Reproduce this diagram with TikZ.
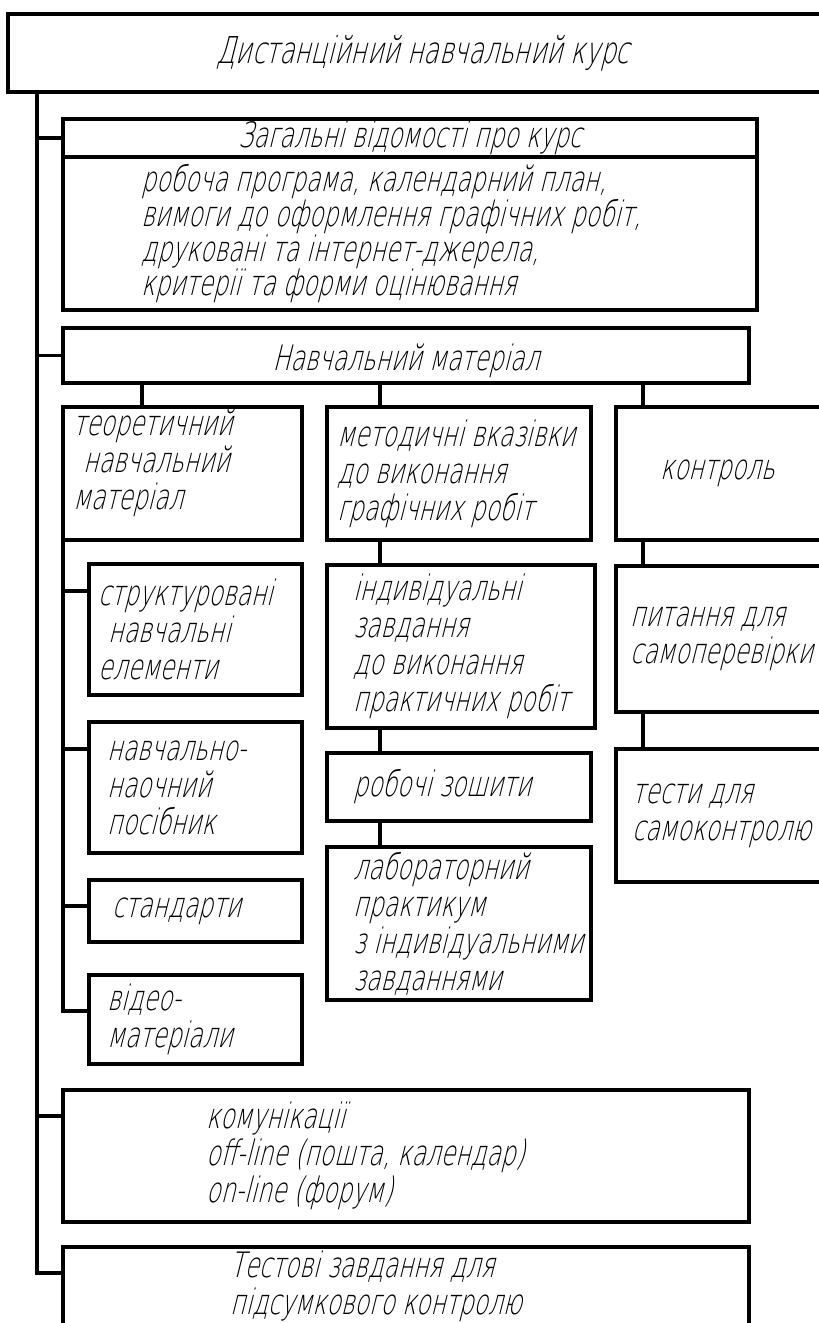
\documentclass[tikz,border=0pt]{standalone}
\usepackage{fontspec}
\setmainfont{DejaVu Sans ExtraLight}[FakeStretch=0.67,FakeSlant=0.25]
\usetikzlibrary{positioning}

\begin{document}
\begin{tikzpicture}[x=1pt,y=-1pt,
    box/.style={draw, line width=3.3pt, rectangle, anchor=north west, inner sep=0pt, outer sep=0pt,
      font=\fontsize{35}{37}\selectfont},
    txt/.style={anchor=west, align=left, inner sep=0pt, font=\fontsize{35}{37}\selectfont},
    link/.style={line width=3.1pt}]
  \useasboundingbox (0,0) rectangle (819,1323);

  % top level
  \node[box, minimum width=830pt, minimum height=78pt, font=\fontsize{37}{38}\selectfont] (kurs) at (8,14) {Дистанційний навчальний курс};
  \node[box, minimum width=694pt, minimum height=38pt] (zagh) at (63,119) {Загальні відомості про курс};
  \node[box, minimum width=694pt, minimum height=153pt] (zagb) at (zagh.south west) {};
  \node[txt, font=\fontsize{35}{34.3}\selectfont] (zagbt) at ([xshift=78pt]zagb.west) {робоча програма, календарний план,\\ вимоги до оформлення графічних робіт,\\ друковані та інтернет-джерела,\\ критерії та форми оцінювання};
  \node[box, minimum width=686pt, minimum height=55pt, text height=34pt, text depth=4pt] (navch) at (63,328) {Навчальний матеріал};

  % three columns
  \node[box, minimum width=239pt, minimum height=133pt] (teor) at (63,407) {};
  \node[box, minimum width=264pt, minimum height=133pt] (metod) at (327,407) {};
  \node[box, minimum width=230pt, minimum height=133pt] (kontr) at (616,407) {};
  \node[txt, yshift=11pt] (teort) at ([xshift=10pt]teor.west) {теоретичний\\ \hspace*{10pt}навчальний\\ матеріал};
  \node[txt] (metodt) at ([xshift=10pt]metod.west) {методичні вказівки\\ до виконання\\ графічних робіт};
  \node[txt] (kontrt) at ([xshift=44pt]kontr.west) {контроль};

  \node[box, minimum width=213pt, minimum height=131pt] (strukt) at (89,564) {};
  \node[box, minimum width=213pt, minimum height=131pt] (posib) at (89,722) {};
  \node[box, minimum width=213pt, minimum height=62pt] (stand) at (89,880) {};
  \node[box, minimum width=213pt, minimum height=89pt] (video) at (89,975) {};
  \node[txt] (struktt) at ([xshift=9pt]strukt.west) {структуровані\\ \hspace*{10pt}навчальні\\ елементи};
  \node[txt] (posibt) at ([xshift=18pt]posib.west) {навчально-\\ наочний\\ посібник};
  \node[txt] (standt) at ([xshift=23pt]stand.west) {стандарти};
  \node[txt] (videot) at ([xshift=18pt]video.west) {відео-\\ матеріали};

  \node[box, minimum width=268pt, minimum height=163pt] (indiv) at (327,565) {};
  \node[box, minimum width=264pt, minimum height=68pt] (zoshit) at (327,753) {};
  \node[box, minimum width=264pt, minimum height=153pt] (lab) at (327,847) {};
  \node[txt] (indivt) at ([xshift=26pt]indiv.west) {індивідуальні\\ завдання\\ до виконання\\ практичних робіт};
  \node[txt] (zoshitt) at ([xshift=26pt]zoshit.west) {робочі зошити};
  \node[txt] (labt) at ([xshift=26pt]lab.west) {лабораторний\\ практикум\\ з індивідуальними\\ завданнями};

  \node[box, minimum width=230pt, minimum height=146pt] (pytan) at (616,566) {};
  \node[box, minimum width=230pt, minimum height=133pt] (testy) at (616,749) {};
  \node[txt] (pytant) at ([xshift=14pt]pytan.west) {питання для\\ самоперевірки};
  \node[txt] (testyt) at ([xshift=16pt]testy.west) {тести для\\ самоконтролю};

  % bottom
  \node[box, minimum width=686pt, minimum height=132pt] (komun) at (63,1090) {};
  \node[box, minimum width=686pt, minimum height=79pt] (pidsum) at (63,1247) {};
  \node[txt] (komunt) at ([xshift=143pt]komun.west) {комунікації\\ off-line (пошта, календар)\\ on-line (форум)};
  \node[txt] (pidsumt) at ([xshift=167pt]pidsum.west) {Тестові завдання для\\ підсумкового контролю};

  % main trunk
  \coordinate (trunk) at ([xshift=29pt]kurs.south west);
  \coordinate (bkom) at ([yshift=-26pt]komun.north west);
  \coordinate (bpid) at ([yshift=-26pt]pidsum.north west);
  \draw[link] (trunk) |- (bpid);
  \draw[link] (trunk |- zagh.west) -- (zagh.west);
  \draw[link] (trunk |- navch.west) -- (navch.west);
  \draw[link] (trunk |- bkom) -- (bkom);

  % left column
  \coordinate (bstr) at ([yshift=-27pt]strukt.north west);
  \coordinate (bpos) at ([yshift=-27pt]posib.north west);
  \coordinate (bsta) at ([yshift=-26pt]stand.north west);
  \coordinate (bvid) at ([yshift=-36pt]video.north west);
  \draw[link] (teor.south west) |- (bvid);
  \draw[link] (teor.south west |- bstr) -- (bstr);
  \draw[link] (teor.south west |- bpos) -- (bpos);
  \draw[link] (teor.south west |- bsta) -- (bsta);

  % columns under Навчальний матеріал
  \draw[link] ([xshift=79pt]teor.north west) coordinate (ta) -- (ta |- navch.south);
  \draw[link] ([xshift=53pt]metod.north west) coordinate (ma) -- (ma |- navch.south);
  \draw[link] ([xshift=27pt]kontr.north west) coordinate (ka) -- (ka |- navch.south);
  \draw[link] ([xshift=53pt]metod.south west) -- ([xshift=53pt]indiv.north west);
  \draw[link] ([xshift=53pt]indiv.south west) -- ([xshift=53pt]zoshit.north west);
  \draw[link] ([xshift=53pt]zoshit.south west) -- ([xshift=53pt]lab.north west);
  \draw[link] ([xshift=27pt]kontr.south west) -- ([xshift=27pt]pytan.north west);
  \draw[link] ([xshift=27pt]pytan.south west) -- ([xshift=27pt]testy.north west);
\end{tikzpicture}
\end{document}
